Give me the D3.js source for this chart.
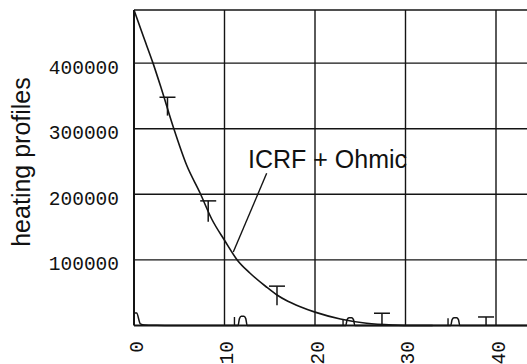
<!DOCTYPE html>
<html>
<head>
<meta charset="utf-8">
<script src="https://cdn.jsdelivr.net/npm/d3@7/dist/d3.min.js"></script>
<style>
  html, body { margin: 0; padding: 0; background: #fff; }
  svg { display: block; }
  .tick-label { font-family: "Liberation Mono", "DejaVu Sans Mono", monospace; font-size: 19.5px; fill: #111; font-variant-numeric: slashed-zero; }
  .title { font-family: "Liberation Sans", Arial, sans-serif; fill: #111; }
</style>
</head>
<body>
<svg id="chart" width="527" height="364"></svg>
<script>
// ICRF + Ohmic heating profile (radius in cm vs. power density)
const icrfX = [0, 1, 2.1, 3, 4.4, 5.8, 7.3, 8.6, 10, 11.4, 12.8, 14.7, 15.8, 17, 18.3, 20, 22.8, 25.7, 28.6, 31, 33];
const icrfY = [481000, 442000, 400000, 362000, 300000, 245000, 202000, 162000, 130000, 100000, 80000, 58000, 46500, 37000, 29000, 20400, 10000, 3500, 800, 0, 0];

// measured points with upper error caps
const errX  = [3.7, 8.2, 15.8, 27.4, 38.9];
const errHi = [348000, 190000, 60000, 18700, 13000];
const errLo = [320000, 158000, 31000, 0, 0];

// Ohmic-only profile, sitting close to zero
const ohmicX = [0, 0.3, 0.7, 1.2, 2.5, 4, 11.5, 11.65, 11.85, 12.15, 12.35, 12.5,
                23.4, 23.55, 23.75, 24.05, 24.25, 24.4, 35.0, 35.15, 35.35, 35.65, 35.85, 36.0, 45];
const ohmicY = [19500, 19000, 2500, 800, 300, 0, 0, 10500, 14000, 14000, 10500, 0,
                0, 9000, 12000, 12000, 9000, 0, 0, 9000, 12000, 12000, 9000, 0, 0];
const ohmicStemX = [11.1, 23.1, 34.7];
const ohmicStemY = [13000, 10000, 11000];

const xTicks = [0, 10, 20, 30, 40];
const yTicks = [100000, 200000, 300000, 400000];
const yTitle = "heating profiles";
const noteText = "ICRF + Ohmic";
const notePos = [12.6, 240000];
const noteLine = [[10.97, 112000], [14.66, 232000]];

const svg = d3.select("#chart");
const W = 527, H = 364;
svg.append("rect").attr("width", W).attr("height", H).attr("fill", "#fff");

const x = d3.scaleLinear().domain([0, 45]).range([134, 541.25]);
const y = d3.scaleLinear().domain([0, 481000]).range([325.5, 10]);

const ink = "#141414";
const g = svg.append("g");

// grid
g.selectAll(".hgrid").data(yTicks).join("line")
  .attr("x1", x(0)).attr("x2", W)
  .attr("y1", d => y(d)).attr("y2", d => y(d))
  .attr("stroke", ink).attr("stroke-width", 1.4);
g.selectAll(".vgrid").data(xTicks.filter(d => d > 0)).join("line")
  .attr("x1", d => x(d)).attr("x2", d => x(d))
  .attr("y1", y(481000)).attr("y2", y(0))
  .attr("stroke", ink).attr("stroke-width", 1.4);

// frame: top, left and baseline
g.append("line").attr("x1", x(0)).attr("x2", W).attr("y1", y(481000)).attr("y2", y(481000))
  .attr("stroke", ink).attr("stroke-width", 1.5);
g.append("line").attr("x1", x(0)).attr("x2", x(0)).attr("y1", y(481000)).attr("y2", y(0))
  .attr("stroke", ink).attr("stroke-width", 2);
g.append("line").attr("x1", x(0)).attr("x2", W).attr("y1", y(0)).attr("y2", y(0))
  .attr("stroke", ink).attr("stroke-width", 1.8);

// y tick labels
g.selectAll(".ylab").data(yTicks).join("text")
  .attr("class", "tick-label")
  .attr("x", 119).attr("y", d => y(d) + 3.5)
  .attr("dy", "0.36em")
  .attr("text-anchor", "end")
  .text(d => d3.format("d")(d));

// x tick labels, rotated to read upward
g.selectAll(".xlab").data(xTicks).join("text")
  .attr("class", "tick-label")
  .attr("transform", d => `translate(${x(d) + 1.5},341) rotate(-90)`)
  .attr("dy", "0.36em")
  .attr("text-anchor", "end")
  .text(d => d);

// y axis title
g.append("text").attr("class", "title")
  .attr("transform", "translate(30,162) rotate(-90)")
  .attr("text-anchor", "middle")
  .style("font-size", "25px")
  .text(yTitle);

// ICRF + Ohmic curve
const icrf = icrfX.map((d, i) => [d, icrfY[i]]);
const line = d3.line().x(d => x(d[0])).y(d => y(d[1])).curve(d3.curveMonotoneX);
g.append("path").attr("d", line(icrf))
  .attr("fill", "none").attr("stroke", ink).attr("stroke-width", 1.6);

// Ohmic curve
const ohmic = ohmicX.map((d, i) => [d, ohmicY[i]]);
g.append("path").attr("d", d3.line().x(d => x(d[0])).y(d => y(d[1])).curve(d3.curveMonotoneX)(ohmic))
  .attr("fill", "none").attr("stroke", ink).attr("stroke-width", 1.5);
g.selectAll(".ostem").data(ohmicStemX).join("line")
  .attr("x1", d => x(d)).attr("x2", d => x(d))
  .attr("y1", y(0)).attr("y2", (d, i) => y(ohmicStemY[i]))
  .attr("stroke", ink).attr("stroke-width", 1.4);

// error bars
const eb = g.selectAll(".eb").data(errX).join("g");
eb.append("line")
  .attr("x1", d => x(d)).attr("x2", d => x(d))
  .attr("y1", (d, i) => y(errLo[i])).attr("y2", (d, i) => y(errHi[i]))
  .attr("stroke", ink).attr("stroke-width", 1.5);
eb.append("line")
  .attr("x1", d => x(d) - 8).attr("x2", d => x(d) + 8)
  .attr("y1", (d, i) => y(errHi[i])).attr("y2", (d, i) => y(errHi[i]))
  .attr("stroke", ink).attr("stroke-width", 1.5);

// annotation
g.append("line")
  .attr("x1", x(noteLine[0][0])).attr("y1", y(noteLine[0][1]))
  .attr("x2", x(noteLine[1][0])).attr("y2", y(noteLine[1][1]))
  .attr("stroke", ink).attr("stroke-width", 1.4);
g.append("text").attr("class", "title")
  .attr("x", x(notePos[0])).attr("y", y(notePos[1]))
  .style("font-size", "25px")
  .text(noteText);
</script>
</body>
</html>
